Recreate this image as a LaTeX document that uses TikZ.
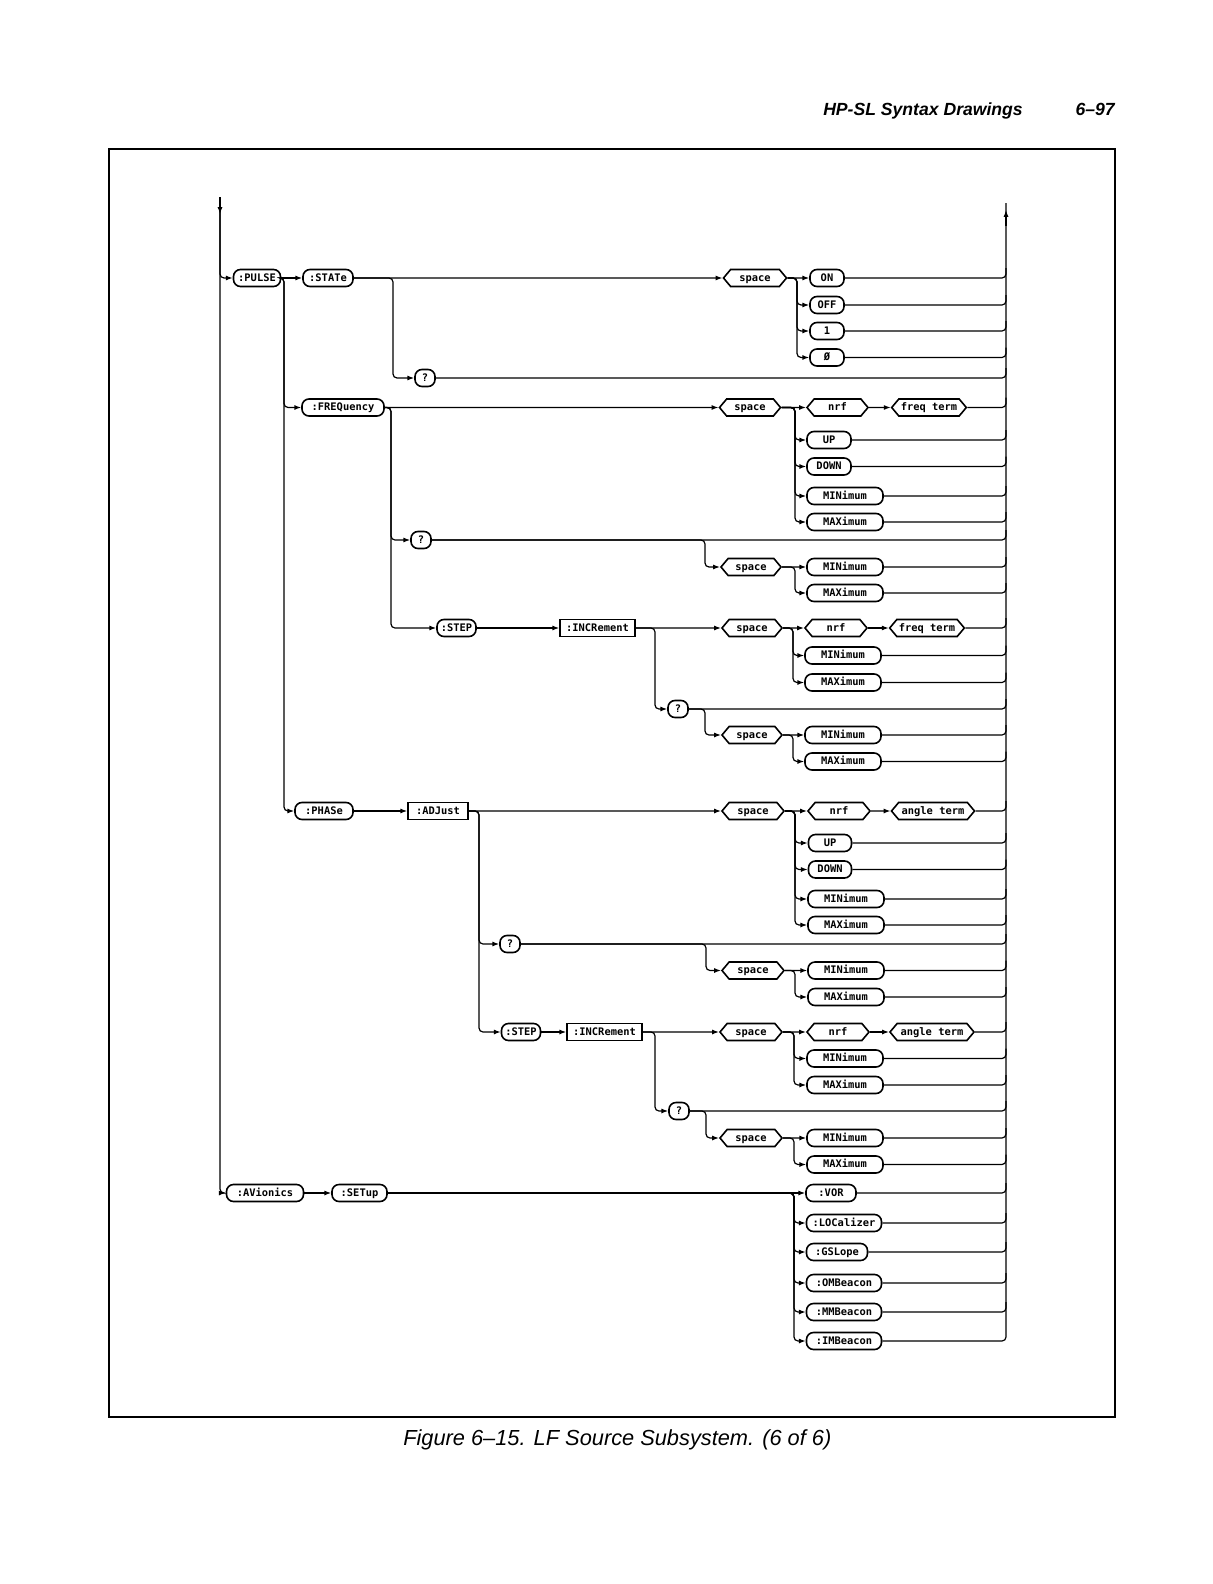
\documentclass[tikz,border=0pt]{standalone}
\usepackage{fontspec}
\usepackage{tikz}
\usetikzlibrary{arrows.meta,shapes.symbols,calc}
\newfontfamily\plotfont{DejaVu Sans Mono}
\newfontfamily\hpsans{Liberation Sans}

\begin{document}
\begin{tikzpicture}[x=.5pt,y=-.5pt,line width=.6pt,
    font=\plotfont\bfseries\fontsize{5.2}{6}\selectfont,
    arr/.style={-{Latex[length=3.4pt,width=2.5pt]}},
    kw/.style={draw,line width=.8pt,rounded corners=3.5pt,minimum height=8.5pt,inner xsep=1.5pt,inner ysep=0pt,text height=3.9pt,text depth=.9pt},
    term/.style={draw,line width=.8pt,shape=signal,signal to=east and west,signal pointer angle=100,minimum height=8.5pt,inner xsep=1pt,inner ysep=0pt,text height=3.9pt,text depth=.9pt},
    box/.style={draw,line width=.8pt,rectangle,minimum height=8.5pt,inner xsep=1.5pt,inner ysep=0pt,text height=3.9pt,text depth=.9pt},
    wd/.style={minimum width=#1*.5pt}]
      \useasboundingbox (0,0) rectangle (1212,1584);
      \node[font=\hpsans\bfseries\itshape\fontsize{8.8}{10}\selectfont,anchor=base west] (head) at (816,116) {HP-SL Syntax Drawings};
      \node[font=\hpsans\bfseries\itshape\fontsize{8.8}{10}\selectfont,anchor=base east] (page) at (1122,116) {6–97};
      \draw[line width=.9pt] (109,149) rectangle (1115,1417);
      \node[font=\hpsans\itshape\fontsize{10.9}{13}\selectfont,anchor=base west] (cap) at (396,1445) {Figure 6–15. LF Source Subsystem. (6 of 6)};
      \coordinate (Ltop) at (220,197);
      \coordinate (Rtop) at (1006,203);
      % PULSE / STATe
      \node[kw,wd=47] (pulse) at (257,278) {:PULSE};
      \node[kw,wd=50] (state) at (328,278) {:STATe};
      \node[term,wd=63] (spS) at (755,278) {space};
      \node[kw,wd=34] (on) at (827,278) {ON};
      \node[kw,wd=34] (off) at (827,305) {OFF};
      \node[kw,wd=34] (one) at (827,331) {1};
      \node[kw,wd=34] (zero) at (827,357.5) {Ø};
      \node[kw,wd=20] (qS) at (425,378) {?};
      % FREQuency
      \node[kw,wd=82] (freq) at (343,407.5) {:FREQuency};
      \node[term,wd=61] (spF) at (750,407.5) {space};
      \node[term,wd=61] (nrfF) at (837.5,407.5) {nrf};
      \node[term,wd=74] (ftF) at (929,407.5) {freq term};
      \node[kw,wd=44] (upF) at (829,440) {UP};
      \node[kw,wd=44] (downF) at (829,466.5) {DOWN};
      \node[kw,wd=76] (minF) at (845,496) {MINimum};
      \node[kw,wd=76] (maxF) at (845,522) {MAXimum};
      \node[kw,wd=20] (qF) at (421,540) {?};
      \node[term,wd=60] (spQF) at (751,567) {space};
      \node[kw,wd=76] (minQF) at (845,567) {MINimum};
      \node[kw,wd=76] (maxQF) at (845,593) {MAXimum};
      \node[kw,wd=39] (stepF) at (456.5,628) {:STEP};
      \node[box,wd=75] (incF) at (597.5,628) {:INCRement};
      \node[term,wd=60] (spI) at (752,628) {space};
      \node[term,wd=62] (nrfI) at (836,628) {nrf};
      \node[term,wd=74] (ftI) at (927,628) {freq term};
      \node[kw,wd=76] (minI) at (843,655.5) {MINimum};
      \node[kw,wd=76] (maxI) at (843,682.5) {MAXimum};
      \node[kw,wd=20] (qI) at (678,709) {?};
      \node[term,wd=60] (spQI) at (752,735) {space};
      \node[kw,wd=76] (minQI) at (843,735) {MINimum};
      \node[kw,wd=76] (maxQI) at (843,761.5) {MAXimum};
      % PHASe
      \node[kw,wd=58] (phase) at (324,811) {:PHASe};
      \node[box,wd=60] (adj) at (438,811) {:ADJust};
      \node[term,wd=62] (spA) at (753,811) {space};
      \node[term,wd=62] (nrfA) at (839,811) {nrf};
      \node[term,wd=83] (atA) at (933,811) {angle term};
      \node[kw,wd=43] (upA) at (830,843) {UP};
      \node[kw,wd=43] (downA) at (830,869.5) {DOWN};
      \node[kw,wd=76] (minA) at (846,899) {MINimum};
      \node[kw,wd=76] (maxA) at (846,925) {MAXimum};
      \node[kw,wd=20] (qA) at (510,944) {?};
      \node[term,wd=62] (spQA) at (753,970.5) {space};
      \node[kw,wd=76] (minQA) at (846,970.5) {MINimum};
      \node[kw,wd=76] (maxQA) at (846,997) {MAXimum};
      \node[kw,wd=39] (stepA) at (521,1032) {:STEP};
      \node[box,wd=75] (incA) at (604.5,1032) {:INCRement};
      \node[term,wd=62] (spIA) at (751,1032) {space};
      \node[term,wd=62] (nrfIA) at (838,1032) {nrf};
      \node[term,wd=84] (atIA) at (932,1032) {angle term};
      \node[kw,wd=76] (minIA) at (845,1058.5) {MINimum};
      \node[kw,wd=76] (maxIA) at (845,1085) {MAXimum};
      \node[kw,wd=20] (qIA) at (679,1111) {?};
      \node[term,wd=62] (spQIA) at (751,1138) {space};
      \node[kw,wd=76] (minQIA) at (845,1138) {MINimum};
      \node[kw,wd=76] (maxQIA) at (845,1164.5) {MAXimum};
      % AVionics
      \node[kw,wd=77] (avion) at (265,1193) {:AVionics};
      \node[kw,wd=55] (setup) at (359.5,1193) {:SETup};
      \node[kw,wd=50] (vor) at (831,1193) {:VOR};
      \node[kw,wd=75] (loc) at (844,1223) {:LOCalizer};
      \node[kw,wd=61] (gsl) at (837,1252) {:GSLope};
      \node[kw,wd=75] (omb) at (844,1283) {:OMBeacon};
      \node[kw,wd=75] (mmb) at (844,1312) {:MMBeacon};
      \node[kw,wd=75] (imb) at (844,1341) {:IMBeacon};
      % rails
      \draw[arr,rounded corners=2pt] (Ltop) |- (pulse.west);
      \draw[arr,rounded corners=2pt] (Ltop) |- (avion.west);
      \draw[arr] (Ltop) -- (220,214);
      \draw[rounded corners=2pt] (imb.east) -| (Rtop);
      \draw[arr] (1006,226) -- (1006,210);
      \foreach \n in {on,off,one,zero,qS,ftF,upF,downF,minF,maxF,qF,minQF,maxQF,ftI,minI,maxI,qI,minQI,maxQI,atA,upA,downA,minA,maxA,qA,minQA,maxQA,atIA,minIA,maxIA,qIA,minQIA,maxQIA,vor,loc,gsl,omb,mmb}
        \draw[rounded corners=2pt] (\n.east) -| ($(\n.east -| Rtop)+(0,-10)$);
      % PULSE / STATe paths
      \draw[arr] (pulse) -- (state);
      \draw[arr] (state) -- (spS);
      \draw[arr] (spS) -- (on);
      \foreach \n in {off,one,zero}
        \draw[arr,rounded corners=2pt] (spS.east) -| (797,290) |- (\n.west);
      \draw[arr,rounded corners=2pt] (state.east) -| (393,300) |- (qS.west);
      \foreach \n in {freq,phase}
        \draw[arr,rounded corners=2pt] (pulse.east) -| (284,300) |- (\n.west);
      % FREQuency paths
      \draw[arr] (freq) -- (spF);
      \draw[arr] (spF) -- (nrfF);
      \draw[arr] (nrfF) -- (ftF);
      \foreach \n in {upF,downF,minF,maxF}
        \draw[arr,rounded corners=2pt] (spF.east) -| (795,420) |- (\n.west);
      \foreach \n in {qF,stepF}
        \draw[arr,rounded corners=2pt] (freq.east) -| (391,420) |- (\n.west);
      \draw[arr,rounded corners=2pt] (qF.east) -| (705,552) |- (spQF.west);
      \draw[arr] (spQF) -- (minQF);
      \draw[arr,rounded corners=2pt] (spQF.east) -| (795,580) |- (maxQF.west);
      \draw[arr] (stepF) -- (incF);
      \draw[arr] (incF) -- (spI);
      \draw[arr,rounded corners=2pt] (incF.east) -| (655,640) |- (qI.west);
      \draw[arr] (spI) -- (nrfI);
      \draw[arr] (nrfI) -- (ftI);
      \foreach \n in {minI,maxI}
        \draw[arr,rounded corners=2pt] (spI.east) -| (793,640) |- (\n.west);
      \draw[arr,rounded corners=2pt] (qI.east) -| (705,720) |- (spQI.west);
      \draw[arr] (spQI) -- (minQI);
      \draw[arr,rounded corners=2pt] (spQI.east) -| (793,748) |- (maxQI.west);
      % PHASe paths
      \draw[arr] (phase) -- (adj);
      \draw[arr] (adj) -- (spA);
      \draw[arr] (spA) -- (nrfA);
      \draw[arr] (nrfA) -- (atA);
      \foreach \n in {upA,downA,minA,maxA}
        \draw[arr,rounded corners=2pt] (spA.east) -| (795,825) |- (\n.west);
      \foreach \n in {qA,stepA}
        \draw[arr,rounded corners=2pt] (adj.east) -| (479,825) |- (\n.west);
      \draw[arr,rounded corners=2pt] (qA.east) -| (706,956) |- (spQA.west);
      \draw[arr] (spQA) -- (minQA);
      \draw[arr,rounded corners=2pt] (spQA.east) -| (795,984) |- (maxQA.west);
      \draw[arr] (stepA) -- (incA);
      \draw[arr] (incA) -- (spIA);
      \draw[arr,rounded corners=2pt] (incA.east) -| (655,1045) |- (qIA.west);
      \draw[arr] (spIA) -- (nrfIA);
      \draw[arr] (nrfIA) -- (atIA);
      \foreach \n in {minIA,maxIA}
        \draw[arr,rounded corners=2pt] (spIA.east) -| (794,1045) |- (\n.west);
      \draw[arr,rounded corners=2pt] (qIA.east) -| (706,1124) |- (spQIA.west);
      \draw[arr] (spQIA) -- (minQIA);
      \draw[arr,rounded corners=2pt] (spQIA.east) -| (794,1150) |- (maxQIA.west);
      % AVionics paths
      \draw[arr] (avion) -- (setup);
      \draw[arr] (setup) -- (vor);
      \foreach \n in {loc,gsl,omb,mmb,imb}
        \draw[arr,rounded corners=2pt] (setup.east) -| (794,1206) |- (\n.west);
\end{tikzpicture}
\end{document}
